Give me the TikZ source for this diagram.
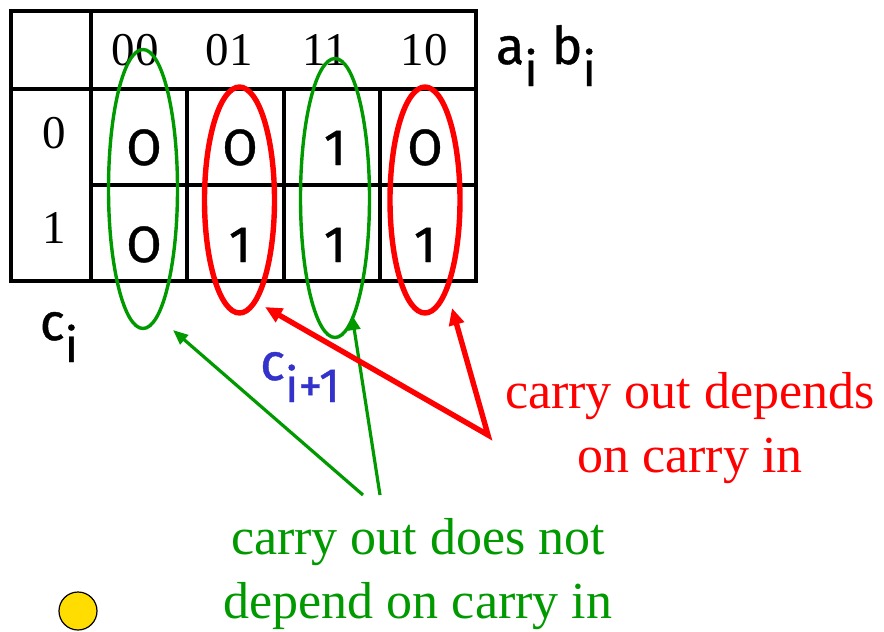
\documentclass[tikz,border=0pt]{standalone}
\usepackage{fontspec}
\setmainfont{Liberation Serif}
\newfontfamily\handfont[FakeBold=0.8]{Fira Sans}
\usetikzlibrary{arrows.meta,shapes.geometric}

\definecolor{kgreen}{RGB}{0,153,0}
\definecolor{kred}{RGB}{255,0,0}
\definecolor{kblue}{RGB}{51,51,204}
\definecolor{kgold}{RGB}{255,221,0}
\newcommand{\lowsub}[1]{\raisebox{-22pt}{\fontsize{48}{50}\selectfont #1}}

\begin{document}
\begin{tikzpicture}[x=1pt,y=-1pt,
  grid/.style={line width=3.2pt},
  hdr/.style={inner sep=0pt,anchor=base,font=\fontsize{47}{56}\selectfont},
  val/.style={inner sep=0pt,anchor=base,font=\handfont\fontsize{51}{56}\selectfont},
  hand/.style={inner sep=0pt,anchor=base,font=\handfont\fontsize{52}{56}\selectfont},
  loopzero/.style={draw=kgreen,line width=3.4pt,ellipse,inner sep=0pt,minimum width=69,minimum height=279},
  loopone/.style={draw=kred,line width=5.4pt,ellipse,inner sep=0pt,minimum width=70,minimum height=226},
  garrow/.style={kgreen,line width=3.2pt,-{Triangle[length=15pt,width=12pt]}},
  rarrow/.style={kred,line width=5.4pt,line join=miter,{Triangle[length=17pt,width=15pt]}-{Triangle[length=17pt,width=15pt]}},
  note/.style={align=center,inner sep=0pt,font=\fontsize{52}{64}\selectfont}]
\useasboundingbox (0,0) rectangle (884,632);

\draw[grid] (11,11) rectangle (476,281);
\draw[grid] (91,11) -- (91,281);
\draw[grid] (11,89) -- (476,89);
\draw[grid] (91,185) -- (476,185);
\foreach \x in {187,284,380} \draw[grid] (\x,89) -- (\x,281);

\foreach \lab/\x in {00/135,01/229,11/325,10/424}
  \node[hdr] (col\lab) at (\x,65) {\lab};
\node[hdr] (row0) at (54,148) {0};
\node[hdr] (row1) at (54,243) {1};

\foreach \lab/\x/\up/\dn in {00/144/O/O,01/240/O/1,11/335/1/1,10/425/O/1}{
  \node[val] (up\lab) at (\x,165) {\up};
  \node[val] (dn\lab) at (\x,262) {\dn};
}

\node[hand] (ab) at (546,64) {a\lowsub{i} b\lowsub{i}};
\node[hand] (cin) at (59,340) {c\lowsub{i}};
\node[hand,text=kblue] (cout) at (300,380) {c\lowsub{i+1}};

\node[loopzero] (loop00) at (143,189) {};
\node[loopone] (loop01) at (239.5,200) {};
\node[loopzero] (loop11) at (335,198) {};
\node[loopone] (loop10) at (425,200) {};

\coordinate (gtip1) at (173,330);
\coordinate (gtip2) at (352,315);
\coordinate (gtail1) at (363,495);
\coordinate (gtail2) at (380,495);
\coordinate (rtip1) at (265,307);
\coordinate (rtip2) at (452,308);
\coordinate (rtail) at (488,435);

\draw[garrow] (gtail1) -- (gtip1);
\draw[garrow] (gtail2) -- (gtip2);
\draw[rarrow] (rtip1) -- (rtail) -- (rtip2);

\node[note,text=kred] (depends) at (690,428) {carry out depends\\on carry in};
\node[note,text=kgreen] (notdep) at (418,574) {carry out does not\\depend on carry in};

\node[circle,draw,line width=1.2pt,fill=kgold,minimum size=38,inner sep=0pt] (dot) at (78,611) {};
\end{tikzpicture}
\end{document}
